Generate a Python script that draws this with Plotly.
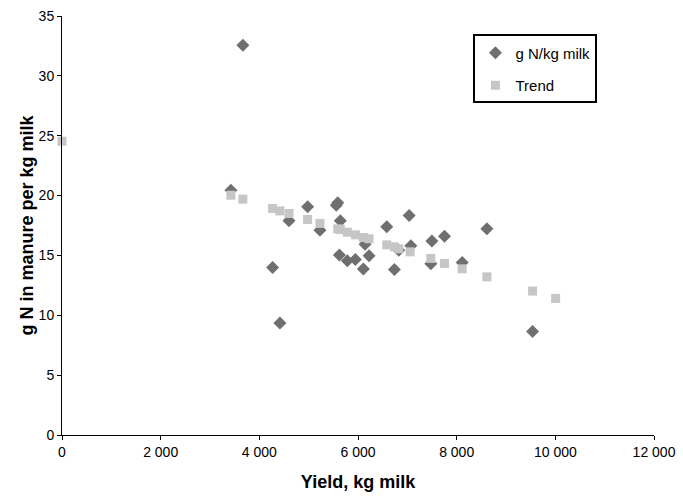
import plotly.graph_objects as go

# g N/kg milk observations
obs_yield = [3423, 3666, 4269, 4417, 4601, 4979, 5229, 5560, 5589, 5622, 5642, 5784,
             5947, 6109, 6143, 6224, 6583, 6738, 6827, 7036, 7070, 7476, 7497, 7753,
             8112, 8613, 9539]
obs_n = [20.45, 32.55, 14.0, 9.35, 17.9, 19.06, 17.11, 19.2, 19.4, 15.03, 17.89, 14.55,
         14.66, 13.86, 15.94, 14.97, 17.39, 13.83, 15.44, 18.34, 15.8, 14.3, 16.2, 16.6,
         14.4, 17.22, 8.65]

# Trend values
trend_yield = [0, 3423, 3666, 4269, 4417, 4601, 4979, 5229, 5589, 5642, 5784, 5947,
               6109, 6224, 6583, 6738, 6827, 7057, 7476, 7753, 8112, 8613, 9539, 10006]
trend_n = [24.54, 20.03, 19.7, 18.92, 18.72, 18.5, 18.0, 17.67, 17.22, 17.17, 16.94, 16.72,
           16.5, 16.39, 15.88, 15.72, 15.55, 15.3, 14.75, 14.33, 13.88, 13.21, 12.02, 11.41]

x_ticks = [0, 2000, 4000, 6000, 8000, 10000, 12000]
x_tick_labels = ["0", "2 000", "4 000", "6 000", "8 000", "10 000", "12 000"]

fig = go.Figure()
fig.add_trace(go.Scatter(
    x=obs_yield, y=obs_n, mode="markers", name="g N/kg milk",
    legendgroup="a", cliponaxis=False,
    marker=dict(symbol="diamond", size=10, color="#6f6f6f", line=dict(width=0)),
))
fig.add_trace(go.Scatter(
    x=trend_yield, y=trend_n, mode="markers", name="Trend",
    legendgroup="b", cliponaxis=False,
    marker=dict(symbol="square", size=9, color="#c6c6c6", line=dict(width=0)),
))

font_family = "Liberation Sans, Arial, sans-serif"
fig.update_layout(
    width=683, height=497,
    margin=dict(l=62, r=29, t=16, b=62),
    paper_bgcolor="white", plot_bgcolor="white",
    font=dict(family=font_family, size=14, color="black"),
    showlegend=True,
    legend=dict(
        x=0.695, y=0.956, xanchor="left", yanchor="top",
        bordercolor="black", borderwidth=2, bgcolor="white",
        font=dict(size=15), tracegroupgap=10, traceorder="grouped",
    ),
    xaxis=dict(
        range=[0, 12000], tickvals=x_ticks, ticktext=x_tick_labels,
        showgrid=False, zeroline=False, showline=True, linecolor="black", linewidth=1,
        ticks="outside", ticklen=4, tickcolor="black", automargin=False,
        title=dict(text="<b>Yield, kg milk</b>", font=dict(size=18), standoff=16),
    ),
    yaxis=dict(
        range=[0, 35], dtick=5, tick0=0,
        showgrid=False, zeroline=False, showline=True, linecolor="black", linewidth=1,
        ticks="outside", ticklen=4, tickcolor="black", automargin=False,
        title=dict(text="<b>g N in manure per kg milk</b>", font=dict(size=18), standoff=0),
    ),
)

fig.write_html(
    "out.html",
    config={"displayModeBar": False},
    post_script="document.body.style.margin='0';document.body.style.padding='0';",
)
